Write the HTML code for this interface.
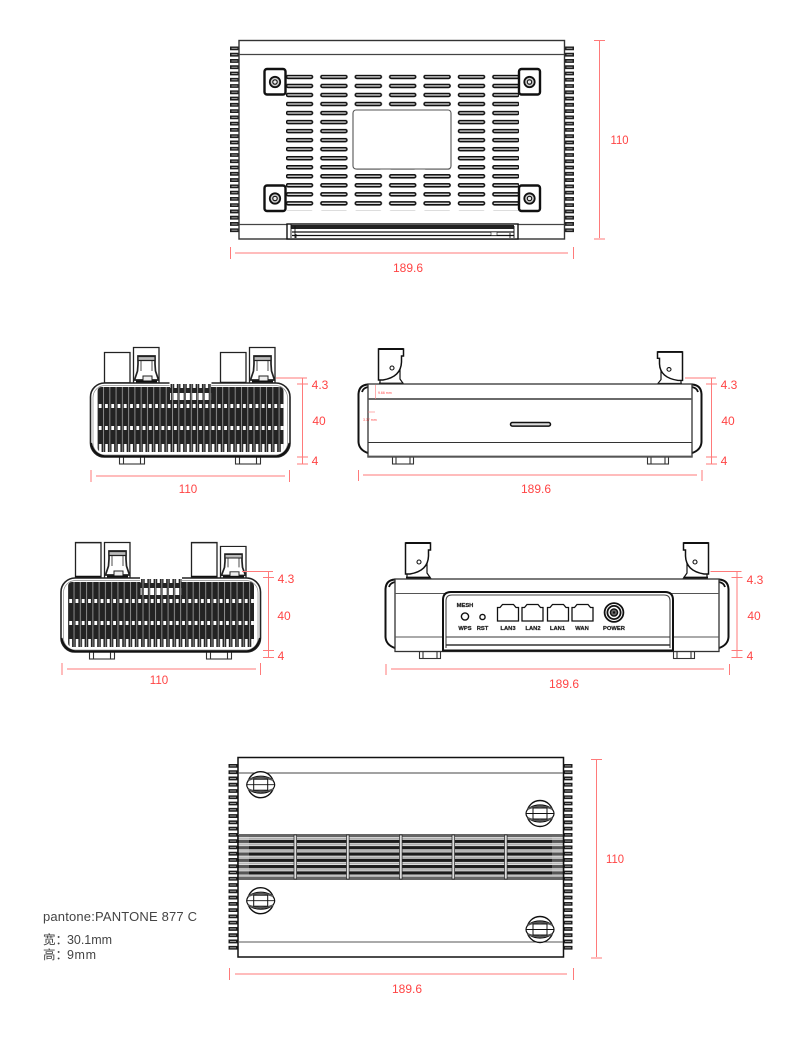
<!DOCTYPE html>
<html lang="zh">
<head>
<meta charset="utf-8">
<title>Router dimensions</title>
<style>
html,body{margin:0;padding:0;background:#fff}
svg{display:block}
.d{fill:#f44;font:12px "Liberation Sans","Noto Sans CJK SC",sans-serif;text-anchor:middle}
.r line,.r path{stroke:#ff7a7a;stroke-width:1;fill:none}
.k{fill:#222;font:bold 5.8px "Liberation Sans",sans-serif;text-anchor:middle;stroke:#222;stroke-width:.25}
.t{fill:#444;font:12.5px "Liberation Sans","Noto Sans CJK SC",sans-serif}
</style>
</head>
<body>
<svg width="790" height="1062" viewBox="0 0 790 1062" xmlns="http://www.w3.org/2000/svg">
<defs>
<pattern id="slots" patternUnits="userSpaceOnUse" x="285.5" y="74.7" width="34.4" height="9.03">
  <rect x="1" y=".7" width="26" height="3" rx="1.5" fill="#ddd" stroke="#111" stroke-width="1.6"/>
</pattern>
<pattern id="hs" patternUnits="userSpaceOnUse" width="6.27" height="66">
  <rect width="6.27" height="66" fill="#232323"/>
  <rect x="0" width="1" height="66" fill="#8a8a8a"/>
  <rect x="2.2" y="0" width="2.6" height="4" fill="#fff"/>
  <rect x="2" y="21" width="2.8" height="4" fill="#fff"/>
  <rect x="2" y="43" width="2.8" height="4" fill="#fff"/>
  <rect x="2.2" y="61" width="2.6" height="5" fill="#fff"/>
</pattern>
<pattern id="hs2" patternUnits="userSpaceOnUse" width="6.27" height="66">
  <rect width="6.27" height="66" fill="#232323"/>
  <rect x="0" width="1" height="66" fill="#8a8a8a"/>
  <rect x="2.2" y="0" width="2.6" height="5" fill="#fff"/>
  <rect x="1.4" y="10" width="4" height="7" fill="#fff"/>
  <rect x="2" y="21" width="2.8" height="4" fill="#fff"/>
  <rect x="2" y="43" width="2.8" height="4" fill="#fff"/>
  <rect x="2.2" y="61" width="2.6" height="5" fill="#fff"/>
</pattern>
<pattern id="band" patternUnits="userSpaceOnUse" x="0" y="836.4" width="10" height="6.3">
  <rect width="10" height="6.3" fill="#1c1c1c"/>
  <rect y=".4" width="10" height="3" fill="#fff"/>
  <rect y="1.1" width="10" height="1.7" fill="#aaa"/>
</pattern>

<g id="fins">
  <line x1="4.5" y1="0" x2="4.5" y2="186" stroke="#1f1f1f" stroke-width="9" stroke-dasharray="3.8 2.47"/>
  <line x1="4.5" y1="1.4" x2="4.5" y2="186" stroke="#999" stroke-width="6" stroke-dasharray="1 5.27"/>
</g>

<g id="mount">
  <rect x="0" y="0" width="21" height="25.5" rx="2.5" fill="#fff" stroke="#111" stroke-width="2.4"/>
  <circle cx="10.5" cy="13" r="5.2" fill="#ccc" stroke="#111" stroke-width="1.8"/>
  <circle cx="10.5" cy="13" r="2.2" fill="#eee" stroke="#111" stroke-width="1.1"/>
</g>

<g id="screw" fill="none" stroke="#111">
  <circle r="13" fill="#fff" stroke-width="1.4"/>
  <path d="M-14 0C-14-5-7-8.5 0-8.5S14-5 14 0 7 8.5 0 8.5-14 5-14 0Z" fill="#fff" stroke-width="1.2"/>
  <path d="M-12.5-4.5Q0-9.5 12.5-4.5M-12.5 4.5Q0 9.5 12.5 4.5" stroke="#555" stroke-width="1.8"/>
  <rect x="-7" y="-5.5" width="14" height="11" stroke-width="1"/>
  <path d="M-14 0H14" stroke-width=".9"/>
</g>

<g id="plain">
  <path d="M.5 31V.5H26V31" fill="#fff" stroke="#222" stroke-width="1.3"/>
</g>

<g id="conn" fill="#fff" stroke="#222">
  <path d="M.5 36V.5H26V36" stroke-width="1.3"/>
  <path d="M5 9H22V17L22.5 24 25.5 33H1.5L4.5 24 5 17Z" stroke-width="1.7"/>
  <path d="M5 9.5H22V13.5H5Z" fill="#bbb" stroke-width="1.2"/>
  <path d="M8 13V24M19 13V24" stroke-width=".8"/>
  <rect x="10" y="29" width="9" height="5.5" fill="#eee" stroke-width="1"/>
  <rect x="3" y="33.5" width="21" height="2.5" fill="#111" stroke="none"/>
</g>

<g id="ant" fill="#fff" stroke="#111">
  <path d="M2 36V30H6Q17 29 22 22V31L25.5 36Z" stroke-width="1.2"/>
  <path d="M.5 1H25.5V8H23.5V14Q23 29 5 32H.5Z" stroke-width="1.5"/>
  <path d="M.5 1H25.5" stroke-width="2"/>
  <path d="M1 35.5H25.5" stroke-width="1.8"/>
  <circle cx="14" cy="20" r="2" stroke-width="1.1"/>
</g>

<g id="foot" fill="#fff" stroke="#333" stroke-width="1.1">
  <rect x=".5" y="0" width="25" height="7"/>
  <path d="M4.5 0V7M21.5 0V7"/>
</g>
<g id="sfoot" fill="#fff" stroke="#333" stroke-width="1.1">
  <rect x=".5" y="0" width="21" height="7"/>
  <path d="M4 0V7M18 0V7"/>
</g>

<g id="heat">
  <rect x="0" y="0" width="199.5" height="74" rx="14" fill="#fff" stroke="#222" stroke-width="1.6"/>
  <rect x="2.5" y="2.5" width="194.5" height="69.5" rx="12" fill="none" stroke="#888" stroke-width=".7"/>
  <rect x="79" y="-1" width="42" height="4" fill="#fff"/>
  <rect x="7" y="4" width="186" height="65" rx="4" fill="url(#hs)"/>
  <rect x="79.6" y="1" width="41" height="68" fill="url(#hs2)"/>
  <path d="M.5 60Q3 72 14 73.2H186Q196 72 199 60" fill="none" stroke="#111" stroke-width="2"/>
</g>

<g id="cap" fill="#fff" stroke="#111">
  <path d="M10 .5Q1 1 .5 10V58Q1 66 10 69" stroke-width="2"/>
  <path d="M10 3Q5 4 4 8" stroke-width="1.8"/>
  <path d="M10 .5V69" stroke-width=".8"/>
</g>

<g id="port" fill="#fff" stroke="#111" stroke-width="1.3">
  <path d="M1 3.5H3.5L6 .5H17L19.5 3.5H22V17H1Z"/>
</g>

<g id="sideDim" class="r">
  <line x1="0" y1="0" x2="31" y2="0"/>
  <line x1="21" y1="6" x2="32" y2="6"/>
  <line x1="21" y1="79" x2="32" y2="79"/>
  <line x1="21" y1="86" x2="32" y2="86"/>
  <line x1="26.5" y1="0" x2="26.5" y2="6"/>
  <line x1="26.5" y1="6" x2="26.5" y2="79"/>
  <line x1="26.5" y1="79" x2="26.5" y2="86"/>
</g>
</defs>

<rect width="790" height="1062" fill="#fff"/>

<!-- ========== TOP VIEW ========== -->
<use href="#fins" x="230" y="46.5"/>
<use href="#fins" x="565" y="46.5"/>
<rect x="239" y="40.5" width="325.5" height="198.5" fill="#fff" stroke="#333" stroke-width="1.4"/>
<line x1="239" y1="54.5" x2="564" y2="54.5" stroke="#444" stroke-width="1.2"/>
<line x1="239" y1="224.5" x2="564" y2="224.5" stroke="#444" stroke-width="1.2"/>
<rect x="286" y="74.7" width="233" height="135.5" fill="url(#slots)"/>
<rect x="353" y="110" width="98" height="59" rx="3" fill="#fff" stroke="#555" stroke-width="1.1"/>
<use href="#mount" x="264.5" y="69"/>
<use href="#mount" x="264.5" y="185.5"/>
<use href="#mount" x="519" y="69"/>
<use href="#mount" x="519" y="185.5"/>
<g fill="#fff" stroke="#111">
  <rect x="287" y="224" width="231" height="15" stroke-width="1.4"/>
  <rect x="291" y="225" width="223" height="4" fill="#222" stroke="none"/>
  <path d="M292 232H514M292 235.5H514" stroke-width="1.2" fill="none"/>
  <path d="M291 224V238M295 226V238M296 234V238M510 233V238M514 226V238" stroke-width=".9" fill="none"/>
  <rect x="491" y="232" width="6" height="3.5" stroke-width=".6"/>
</g>

<g class="r">
  <line x1="230.5" y1="247" x2="230.5" y2="259"/>
  <line x1="235" y1="253" x2="568" y2="253"/>
  <line x1="573.5" y1="247" x2="573.5" y2="259"/>
  <line x1="594" y1="40.5" x2="605" y2="40.5"/>
  <line x1="594" y1="239" x2="605" y2="239"/>
  <line x1="599.5" y1="41" x2="599.5" y2="238"/>
</g>
<text class="d" x="619.5" y="144" textLength="18" lengthAdjust="spacingAndGlyphs">110</text>
<text class="d" x="408" y="272">189.6</text>

<!-- ========== LEFT VIEW 1 ========== -->
<use href="#foot" x="119" y="457"/>
<use href="#foot" x="235" y="457"/>
<g transform="translate(104,352)"><use href="#plain"/></g>
<g transform="translate(133,347)"><use href="#conn"/></g>
<g transform="translate(220,352)"><use href="#plain"/></g>
<line x1="220" y1="383" x2="246" y2="383" stroke="#111" stroke-width="2.4"/>
<line x1="104" y1="383" x2="130" y2="383" stroke="#111" stroke-width="1.4"/>
<g transform="translate(249,347)"><use href="#conn"/></g>
<use href="#heat" x="90.5" y="383"/>
<use href="#sideDim" x="276" y="378"/>
<g class="r">
  <line x1="91" y1="470" x2="91" y2="482"/>
  <line x1="96" y1="476" x2="285" y2="476"/>
  <line x1="289.5" y1="470" x2="289.5" y2="482"/>
</g>
<text class="d" x="320" y="389">4.3</text>
<text class="d" x="319" y="425">40</text>
<text class="d" x="315" y="465">4</text>
<text class="d" x="188" y="493" textLength="18.5" lengthAdjust="spacingAndGlyphs">110</text>

<!-- ========== SIDE VIEW ========== -->
<use href="#sfoot" x="392" y="457"/>
<use href="#sfoot" x="647" y="457"/>
<use href="#ant" x="378" y="348"/>
<g transform="translate(683,351) scale(-1,.92)"><use href="#ant"/></g>
<use href="#cap" x="358" y="384"/>
<g transform="translate(702,384) scale(-1,1)"><use href="#cap"/></g>
<rect x="368" y="384" width="324" height="73" fill="#fff" stroke="#333" stroke-width="1.3"/>
<line x1="368" y1="399" x2="692" y2="399" stroke="#555" stroke-width="1.8"/>
<line x1="368" y1="442.5" x2="692" y2="442.5" stroke="#333" stroke-width="1.1"/>
<line x1="368" y1="456.5" x2="692" y2="456.5" stroke="#555" stroke-width="1.8"/>
<rect x="510.5" y="422.5" width="40" height="3.6" rx="1.8" fill="#ddd" stroke="#111" stroke-width="1.5"/>
<g class="r">
  <line x1="375.5" y1="385" x2="375.5" y2="399" style="stroke-width:.6"/>
  <line x1="368" y1="412" x2="375" y2="412" style="stroke-width:.6"/>
</g>
<text x="378" y="394" style="fill:#f44;font:3.5px 'Liberation Sans',sans-serif">9.66 mm</text>
<text x="363" y="421" style="fill:#f44;font:3.5px 'Liberation Sans',sans-serif">3.37 mm</text>
<use href="#sideDim" x="685" y="378"/>
<g class="r">
  <line x1="358.5" y1="470" x2="358.5" y2="481"/>
  <line x1="363" y1="475" x2="697" y2="475"/>
  <line x1="702" y1="470" x2="702" y2="481"/>
</g>
<text class="d" x="729" y="389">4.3</text>
<text class="d" x="728" y="425">40</text>
<text class="d" x="724" y="465">4</text>
<text class="d" x="536" y="493">189.6</text>

<!-- ========== LEFT VIEW 2 ========== -->
<use href="#foot" x="89" y="652"/>
<use href="#foot" x="206" y="652"/>
<g transform="translate(75,542) scale(1,1.17)"><use href="#plain"/></g>
<g transform="translate(104,542)"><use href="#conn"/></g>
<g transform="translate(191,542) scale(1,1.17)"><use href="#plain"/></g>
<g transform="translate(220,546) scale(1,.89)"><use href="#conn"/></g>
<line x1="75" y1="577" x2="101" y2="577" stroke="#111" stroke-width="2.4"/>
<line x1="191" y1="577" x2="217" y2="577" stroke="#111" stroke-width="2.4"/>
<use href="#heat" x="61" y="578"/>
<use href="#sideDim" x="242" y="571.5"/>
<g class="r">
  <line x1="62" y1="663" x2="62" y2="675"/>
  <line x1="67" y1="669" x2="256" y2="669"/>
  <line x1="260.5" y1="663" x2="260.5" y2="675"/>
</g>
<text class="d" x="286" y="583">4.3</text>
<text class="d" x="284" y="620">40</text>
<text class="d" x="281" y="660">4</text>
<text class="d" x="159" y="684" textLength="18.5" lengthAdjust="spacingAndGlyphs">110</text>

<!-- ========== REAR VIEW ========== -->
<use href="#sfoot" x="419" y="651.5"/>
<use href="#sfoot" x="673" y="651.5"/>
<use href="#ant" x="405" y="542"/>
<g transform="translate(709,542) scale(-1,1)"><use href="#ant"/></g>
<use href="#cap" x="385" y="579"/>
<g transform="translate(729,579) scale(-1,1)"><use href="#cap"/></g>
<rect x="395" y="579" width="324" height="72.5" fill="#fff" stroke="#333" stroke-width="1.3"/>
<line x1="395" y1="593.5" x2="719" y2="593.5" stroke="#555" stroke-width="1"/>
<line x1="395" y1="637" x2="719" y2="637" stroke="#555" stroke-width="1"/>
<path d="M443 651.5V600Q443 592 451 592H665Q673 592 673 600V651.5" fill="#fff" stroke="#111" stroke-width="2"/>
<path d="M446 648V601Q446 595 452 595H664Q670 595 670 601V648" fill="none" stroke="#444" stroke-width="1.1"/>
<line x1="446" y1="637" x2="670" y2="637" stroke="#333" stroke-width="1.1"/>
<line x1="446" y1="645" x2="670" y2="645" stroke="#333" stroke-width="1.4"/>
<line x1="443" y1="650.5" x2="673" y2="650.5" stroke="#111" stroke-width="2"/>
<text class="k" x="465" y="607">MESH</text>
<circle cx="465" cy="616.5" r="3.6" fill="#fff" stroke="#111" stroke-width="1.4"/>
<circle cx="482.5" cy="617" r="2.6" fill="#fff" stroke="#111" stroke-width="1.4"/>
<text class="k" x="465" y="630">WPS</text>
<text class="k" x="482.5" y="630">RST</text>
<use href="#port" x="496.5" y="604"/>
<use href="#port" x="521" y="604"/>
<use href="#port" x="546.5" y="604"/>
<use href="#port" x="571" y="604"/>
<text class="k" x="508" y="630">LAN3</text>
<text class="k" x="533" y="630">LAN2</text>
<text class="k" x="557.5" y="630">LAN1</text>
<text class="k" x="582" y="630">WAN</text>
<circle cx="614" cy="612.5" r="9.4" fill="#fff" stroke="#111" stroke-width="1.8"/>
<circle cx="614" cy="612.5" r="6.6" fill="none" stroke="#111" stroke-width="1.8"/>
<circle cx="614" cy="612.5" r="3.6" fill="#666" stroke="#111" stroke-width="1.4"/>
<circle cx="614" cy="612.5" r="1.2" fill="#111"/>
<text class="k" x="614" y="630">POWER</text>
<use href="#sideDim" x="710.5" y="571.5"/>
<g class="r">
  <line x1="386" y1="664" x2="386" y2="675"/>
  <line x1="391" y1="669" x2="724" y2="669"/>
  <line x1="729.5" y1="664" x2="729.5" y2="675"/>
</g>
<text class="d" x="755" y="584">4.3</text>
<text class="d" x="754" y="620">40</text>
<text class="d" x="750" y="660">4</text>
<text class="d" x="564" y="688">189.6</text>

<!-- ========== BOTTOM VIEW ========== -->
<use href="#fins" x="228.5" y="764"/>
<use href="#fins" x="563.5" y="764"/>
<rect x="238" y="757.5" width="325.5" height="199.5" fill="#fff" stroke="#111" stroke-width="1.5"/>
<line x1="238" y1="773" x2="563" y2="773" stroke="#444" stroke-width="1.1"/>
<line x1="238" y1="942" x2="563" y2="942" stroke="#555" stroke-width="1.1"/>
<rect x="238" y="834" width="325" height="46" fill="#666"/>
<rect x="238" y="836.4" width="325" height="41" fill="url(#band)"/>
<rect x="238" y="877" width="325" height="3" fill="#666"/>
<rect x="239" y="836.8" width="10" height="38" fill="#ddd" opacity=".3"/>
<rect x="552" y="836.8" width="11" height="38" fill="#ddd" opacity=".3"/>
<g fill="#ddd" stroke="#222" stroke-width=".7">
  <rect x="294" y="835" width="2.6" height="44"/>
  <rect x="346.5" y="835" width="2.6" height="44"/>
  <rect x="399.5" y="835" width="2.6" height="44"/>
  <rect x="452" y="835" width="2.6" height="44"/>
  <rect x="504.5" y="835" width="2.6" height="44"/>
</g>
<line x1="238" y1="835" x2="238" y2="880" stroke="#111" stroke-width="1.5"/>
<line x1="563.5" y1="835" x2="563.5" y2="880" stroke="#111" stroke-width="1.5"/>
<use href="#screw" x="260.7" y="784.7"/>
<use href="#screw" x="260.7" y="900.7"/>
<use href="#screw" x="540" y="813.5"/>
<use href="#screw" x="540" y="929.5"/>
<g class="r">
  <line x1="229.5" y1="968" x2="229.5" y2="980"/>
  <line x1="235" y1="974" x2="567" y2="974"/>
  <line x1="573.5" y1="968" x2="573.5" y2="980"/>
  <line x1="591" y1="759.5" x2="602" y2="759.5"/>
  <line x1="591" y1="958" x2="602" y2="958"/>
  <line x1="596.5" y1="760" x2="596.5" y2="957"/>
</g>
<text class="d" x="615" y="863" textLength="18" lengthAdjust="spacingAndGlyphs">110</text>
<text class="d" x="407" y="993">189.6</text>

<!-- ========== NOTES ========== -->
<text class="t" x="43" y="921" textLength="154" style="font-size:13px">pantone:PANTONE 877 C</text>
<text class="t" x="43" y="944">宽：</text>
<text class="t" x="67" y="944" textLength="45">30.1mm</text>
<text class="t" x="43" y="959">高：</text>
<text class="t" x="67" y="959" textLength="29">9mm</text>
</svg>
</body>
</html>
